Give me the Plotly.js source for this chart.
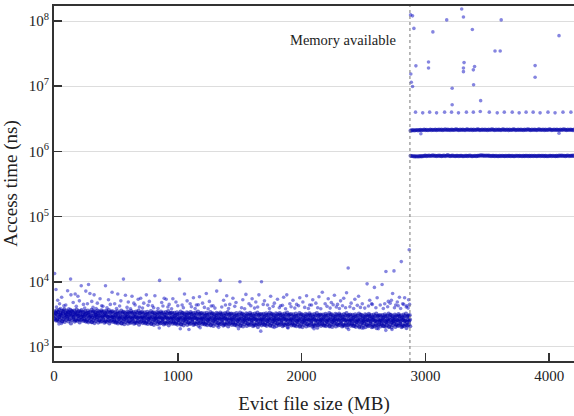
<!DOCTYPE html>
<html>
<head>
<meta charset="utf-8">
<script src="https://cdn.plot.ly/plotly-3.0.1.min.js"></script>
<style>html,body{margin:0;padding:0;background:#fff;}#chart{width:574px;height:416px;}</style>
</head>
<body>
<div id="chart"></div>
<script>
// Eviction file size sampling (MB)
const leftStart = 0, rightStart = 2880, sampleStep = 10;
const rowOffsets = [0, 3, 7, 5];
const memoryAvailable = 2875;

// Access time samples below the memory limit (ns), four samples per size
const leftRowA = [
3100,2980,3210,3050,2890,3150,3020,3260,2940,3080,3170,2910,3040,3230,2990,3110,2870,3060,3190,2950,3030,3140,2880,3010,
2960,3080,2850,2990,3120,2900,3010,2830,3050,2940,3100,2870,2980,3060,2810,2950,3030,2890,3070,2920,2840,3000,2960,2880,
2870,2790,2950,2820,2900,2760,2980,2850,2730,2910,2800,2880,2940,2770,2860,2710,2930,2820,2890,2750,2840,2960,2800,2870,
2810,2740,2880,2790,2700,2850,2760,2900,2830,2690,2780,2860,2730,2820,2910,2750,2680,2840,2790,2870,2720,2800,2760,2850,
2760,2690,2820,2740,2650,2800,2710,2860,2770,2630,2730,2840,2680,2790,2720,2880,2660,2750,2810,2700,2770,2640,2830,2720,
2710,2640,2780,2690,2600,2750,2670,2820,2720,2580,2690,2800,2630,2740,2680,2840,2610,2710,2770,2650,2730,2590,2790,2680,
2660,2590,2730,2640,2560,2700,2620,2770,2670,2530,2640,2750,2580,2690,2630,2790,2560,2660,2720,2600,2680,2540,2740,2630,
2650,2580,2720,2630,2550,2690,2610,2760,2660,2520,2630,2740,2570,2680,2620,2780,2550,2650,2710,2590,2670,2530,2730,2620,
2610,2540,2680,2590,2510,2650,2570,2720,2620,2480,2590,2700,2530,2640,2580,2740,2510,2610,2670,2550,2630,2490,2690,2580,
2600,2530,2670,2580,2500,2640,2560,2710,2610,2470,2580,2690,2520,2630,2570,2730,2500,2600,2660,2540,2620,2480,2680,2570,
2560,2490,2630,2540,2460,2600,2520,2670,2570,2430,2540,2650,2480,2590,2530,2690,2460,2560,2620,2500,2580,2440,2640,2530,
2550,2480,2620,2530,2450,2590,2510,2660,2560,2420,2530,2640,2470,2580,2520,2680,2450,2550,2610,2490,2570,2430,2630,2520
];
const leftRowB = [
3520,3380,3650,3440,3710,3300,3580,3460,3800,3350,3620,3490,3390,3700,3530,3420,3610,3360,3750,3480,3560,3330,3680,3450,
3410,3540,3290,3620,3380,3470,3700,3320,3560,3430,3280,3600,3490,3360,3650,3400,3510,3300,3580,3440,3690,3350,3480,3520,
3320,3450,3200,3530,3290,3380,3610,3230,3470,3340,3190,3510,3400,3270,3560,3310,3420,3210,3490,3350,3600,3260,3390,3430,
3260,3390,3140,3470,3230,3320,3550,3170,3410,3280,3130,3450,3340,3210,3500,3250,3360,3150,3430,3290,3540,3200,3330,3370,
3200,3330,3080,3410,3170,3260,3490,3110,3350,3220,3070,3390,3280,3150,3440,3190,3300,3090,3370,3230,3480,3140,3270,3310,
3140,3270,3020,3350,3110,3200,3430,3050,3290,3160,3010,3330,3220,3090,3380,3130,3240,3030,3310,3170,3420,3080,3210,3250,
3090,3220,2970,3300,3060,3150,3380,3000,3240,3110,2960,3280,3170,3040,3330,3080,3190,2980,3260,3120,3370,3030,3160,3200,
3080,3210,2960,3290,3050,3140,3370,2990,3230,3100,2950,3270,3160,3030,3320,3070,3180,2970,3250,3110,3360,3020,3150,3190,
3030,3160,2910,3240,3000,3090,3320,2940,3180,3050,2900,3220,3110,2980,3270,3020,3130,2920,3200,3060,3310,2970,3100,3140,
3020,3150,2900,3230,2990,3080,3310,2930,3170,3040,2890,3210,3100,2970,3260,3010,3120,2910,3190,3050,3300,2960,3090,3130,
2970,3100,2850,3180,2940,3030,3260,2880,3120,2990,2840,3160,3050,2920,3210,2960,3070,2860,3140,3000,3250,2910,3040,3080,
2960,3090,2840,3170,2930,3020,3250,2870,3110,2980,2830,3150,3040,2910,3200,2950,3060,2850,3130,2990,3240,2900,3030,3070
];
const leftRowC = [
2650,2540,2720,2480,2610,2780,2500,2680,2420,2590,2730,2460,2640,2300,2570,2700,2450,2620,2530,2690,2380,2580,2660,2510,
2560,2450,2630,2390,2520,2690,2410,2590,2330,2500,2640,2370,2550,2440,2480,2610,2360,2530,2440,2600,2290,2490,2570,2420,
2470,2360,2540,2300,2430,2600,2320,2500,2240,2410,2550,2280,2460,2350,2390,2520,2270,2440,2350,2510,2200,2400,2480,2330,
2420,2310,2490,2250,2380,2550,2270,2450,2190,2360,2500,2230,2410,2300,2340,2470,2220,2390,2300,2460,2150,2350,2430,2280,
2380,2270,2450,2210,2340,2510,2230,2410,2150,2320,2460,2190,2370,2260,2300,2430,2180,2350,2260,2420,2110,2310,2390,2240,
2330,2220,2400,2160,2290,2460,2180,2360,2100,2270,2410,2140,2320,2210,2250,2380,2130,2300,2210,2370,2060,2260,2340,2190,
2290,2180,2360,2120,2250,2420,2140,2320,2060,2230,2370,2100,2280,2170,2210,2340,2090,2260,2170,2330,2020,2220,2300,2150,
2280,2200,2350,2110,2260,2400,2150,2310,2070,2240,2360,2090,2290,2160,2220,2330,2080,2270,2180,2320,2030,2230,2310,2140,
2250,2140,2320,2080,2210,2380,2100,2280,2020,2190,2330,2060,2240,2130,2170,2300,2050,2220,2130,2290,1980,2180,2260,2110,
2240,2150,2310,2090,2200,2370,2110,2270,2030,2200,2320,2070,2230,2140,2180,2290,2060,2210,2140,2280,1990,2190,2250,2120,
2210,2100,2280,2040,2170,2340,2060,2240,1980,2150,2290,2020,2200,2090,2130,2260,2010,2180,2090,2250,1940,2140,2220,2070,
2200,2110,2270,2050,2160,2330,2070,2230,1990,2160,2280,2030,2190,2100,2140,2250,2020,2170,2100,2240,1950,2150,2210,2080
];
const leftRowD = [
2750,3300,2600,3450,2900,3150,2450,3600,2800,3250,2950,3400,2700,3100,3550,2850,3200,2550,3350,3000,2650,3500,2900,3150,
2700,3200,2500,3350,2800,3050,2400,3500,2750,3150,2850,3300,2600,3000,3450,2750,3100,2450,3250,2900,2550,3400,2800,3050,
2600,3100,2400,3250,2700,2950,2300,3400,2650,3050,2750,3200,2500,2900,3350,2650,3000,2350,3150,2800,2450,3300,2700,2950,
2550,3050,2350,3200,2650,2900,2250,3350,2600,3000,2700,3150,2450,2850,3300,2600,2950,2300,3100,2750,2400,3250,2650,2900,
2500,3000,2300,3150,2600,2850,2200,3300,2550,2950,2650,3100,2400,2800,3250,2550,2900,2250,3050,2700,2350,3200,2600,2850,
2450,2950,2250,3100,2550,2800,2150,3250,2500,2900,2600,3050,2350,2750,3200,2500,2850,2200,3000,2650,2300,3150,2550,2800,
2400,2900,2200,3050,2500,2750,2100,3200,2450,2850,2550,3000,2300,2700,3150,2450,2800,2150,2950,2600,2250,3100,2500,2750,
2420,2880,2180,3070,2480,2770,2120,3180,2470,2830,2570,2980,2320,2680,3130,2430,2820,2170,2930,2620,2230,3080,2520,2730,
2350,2850,2150,3000,2450,2700,2050,3150,2400,2800,2500,2950,2250,2650,3100,2400,2750,2100,2900,2550,2200,3050,2450,2700,
2370,2830,2130,3020,2430,2720,2070,3130,2420,2780,2520,2930,2270,2630,3080,2380,2770,2120,2880,2570,2180,3030,2470,2680,
2300,2800,2100,2950,2400,2650,2000,3100,2350,2750,2450,2900,2200,2600,3050,2350,2700,2050,2850,2500,2150,3000,2400,2650,
2320,2780,2080,2970,2380,2670,2020,3080,2370,2730,2470,2880,2220,2580,3030,2330,2720,2070,2830,2520,2170,2980,2420,2630
];

// Scattered slow accesses below the memory limit: [size MB, time ns]
const leftOutliers = [
[5,13400],[16,7600],[30,5200],[45,4600],[62,5800],[80,4300],[110,7300],[134,11000],[137,6300],[155,4800],[171,6500],[193,6000],
[205,5100],[220,8700],[238,4500],[257,7200],[279,9100],[290,6600],[305,5000],[324,6300],[350,4700],[372,5500],[395,4200],[416,8700],
[440,5300],[469,6900],[490,4600],[515,6500],[540,5100],[561,11000],[577,6200],[600,4900],[630,6000],[655,4400],[680,5400],[700,5600],
[725,4700],[746,6300],[770,5000],[795,4300],[815,6100],[853,10500],[870,4800],[890,5600],[906,5400],[930,4500],[960,5500],[985,4900],
[1014,11000],[1035,4400],[1054,6500],[1075,5100],[1100,4600],[1126,5700],[1150,4400],[1175,5900],[1200,4700],[1230,6600],[1255,5000],
[1285,4300],[1314,7200],[1343,10500],[1370,5200],[1395,6100],[1420,4500],[1445,5600],[1470,4800],[1502,10000],[1525,5300],[1550,6400],
[1575,4600],[1600,5500],[1630,4900],[1655,6300],[1676,10000],[1700,5100],[1725,4400],[1750,6000],[1780,4700],[1805,5400],[1830,4300],
[1855,5800],[1880,6300],[1905,4600],[1930,5200],[1960,4500],[1985,5700],[2010,4900],[2040,6100],[2065,4400],[2090,5300],[2115,4700],
[2140,5900],[2167,6900],[2190,4600],[2215,5500],[2240,4800],[2265,6200],[2290,4500],[2315,5100],[2340,5600],[2363,6800],[2376,16300],
[2400,4700],[2430,5400],[2460,6000],[2490,4600],[2529,9300],[2550,5200],[2571,4500],[2588,8200],[2610,5700],[2650,9100],[2671,4600],
[2681,14400],[2700,5000],[2725,5200],[2735,6600],[2746,14700],[2760,4400],[2773,4900],[2790,5800],[2805,20400],[2816,4600],[2832,5700],
[2850,4300],[2864,5300],[2869,31000],[2872,4500],
[20,4100],[52,3900],[95,4400],[120,3850],[180,4200],[248,3950],[270,4600],[315,4050],[340,3900],[385,4300],[428,4000],[455,4500],
[505,3900],[530,4250],[590,4050],[618,3850],[645,4700],[690,4100],[715,3950],[760,4350],[805,4000],[840,3900],[880,4250],[920,4100],
[950,3850],[1000,4300],[1045,4000],[1110,4150],[1140,3900],[1165,4450],[1215,4050],[1245,3850],[1270,4250],[1300,3950],[1355,4100],
[1385,4400],[1410,3900],[1460,4200],[1515,4000],[1540,3850],[1590,4300],[1620,3950],[1645,4100],[1690,4500],[1740,3900],[1770,4200],
[1820,4000],[1845,4350],[1870,3850],[1915,4150],[1945,3950],[1975,4300],[2025,4050],[2055,3900],[2080,4400],[2130,4000],[2155,3850],
[2205,4200],[2230,3950],[2255,4450],[2280,4100],[2305,3900],[2330,4300],[2355,4000],[2390,4150],[2420,3900],[2450,4350],[2475,4050],
[2510,3950],[2540,4250],[2565,4600],[2600,4000],[2635,4400],[2660,3900],[2695,4150],[2715,4700],[2750,4000],[2780,4300],[2800,3900],
[2825,4500],[2845,4100],[2860,3950],
[40,2250],[60,2300],[850,1950],[1020,1900],[1090,1850],[1180,1980],[1330,2000],[1490,1900],[1670,1750],[1780,2000],[1890,1950],
[2100,1900],[2380,1850],[2500,1950],[2620,1900],[2680,1800],[2730,1850]
];

// Access time above the memory limit (ns)
const rightUpper = [
2.08e6,2.10e6,2.12e6,2.09e6,2.11e6,2.13e6,2.10e6,2.12e6,2.14e6,2.11e6,
2.13e6,2.15e6,2.12e6,2.14e6,2.11e6,2.13e6,2.16e6,2.12e6,2.14e6,2.13e6,
2.15e6,2.12e6,2.14e6,2.16e6,2.13e6,2.15e6,2.12e6,2.14e6,2.17e6,2.13e6,
2.15e6,2.14e6,2.12e6,2.16e6,2.14e6,2.13e6,2.15e6,2.17e6,2.14e6,2.12e6,
2.15e6,2.13e6,2.16e6,2.14e6,2.12e6,2.15e6,2.17e6,2.13e6,2.14e6,2.16e6,
2.12e6,2.15e6,2.13e6,2.14e6,2.17e6,2.15e6,2.12e6,2.14e6,2.16e6,2.13e6,
2.15e6,2.14e6,2.12e6,2.16e6,2.13e6,2.15e6,2.17e6,2.14e6,2.12e6,2.15e6,
2.13e6,2.16e6,2.14e6,2.12e6,2.15e6,2.17e6,2.13e6,2.14e6,2.16e6,2.12e6,
2.15e6,2.13e6,2.14e6,2.17e6,2.15e6,2.12e6,2.14e6,2.16e6,2.13e6,2.15e6,
2.14e6,2.12e6,2.16e6,2.13e6,2.15e6,2.17e6,2.14e6,2.12e6,2.15e6,2.13e6,
2.16e6,2.14e6,2.12e6,2.15e6,2.17e6,2.13e6,2.14e6,2.16e6,2.12e6,2.15e6,
2.13e6,2.14e6,2.17e6,2.15e6,2.12e6,2.14e6,2.16e6,2.13e6,2.15e6,2.14e6,
2.12e6,2.16e6,2.13e6,2.15e6,2.17e6,2.14e6,2.12e6,2.15e6,2.13e6,2.16e6,
2.14e6,2.12e6,2.15e6
];
const rightLower = [
8.55e5,8.50e5,8.42e5,8.38e5,8.40e5,8.35e5,8.41e5,8.37e5,8.44e5,8.39e5,
8.46e5,8.52e5,8.60e5,8.48e5,8.55e5,8.62e5,8.50e5,8.57e5,8.70e5,8.53e5,
8.58e5,8.49e5,8.56e5,8.63e5,8.51e5,8.45e5,8.54e5,8.60e5,8.48e5,8.57e5,
8.75e5,8.52e5,8.47e5,8.55e5,8.61e5,8.50e5,8.44e5,8.53e5,8.58e5,8.46e5,
8.52e5,8.57e5,8.49e5,8.43e5,8.51e5,8.56e5,8.47e5,8.54e5,8.60e5,8.48e5,
8.42e5,8.50e5,8.55e5,8.46e5,8.52e5,8.58e5,8.63e5,8.66e5,8.59e5,8.62e5,
8.55e5,8.64e5,8.57e5,8.61e5,8.53e5,8.48e5,8.56e5,8.51e5,8.45e5,8.54e5,
8.49e5,8.43e5,8.52e5,8.47e5,8.55e5,8.50e5,8.44e5,8.53e5,8.48e5,8.56e5,
8.51e5,8.46e5,8.54e5,8.49e5,8.43e5,8.52e5,8.57e5,8.47e5,8.55e5,8.50e5,
8.44e5,8.53e5,8.48e5,8.56e5,8.51e5,8.45e5,8.54e5,8.49e5,8.52e5,8.47e5,
8.55e5,8.50e5,8.44e5,8.53e5,8.58e5,8.48e5,8.56e5,8.51e5,8.46e5,8.54e5,
8.49e5,8.43e5,8.52e5,8.57e5,8.47e5,8.55e5,8.50e5,8.44e5,8.53e5,8.48e5,
8.60e5,8.56e5,8.62e5,8.51e5,8.58e5,8.46e5,8.54e5,8.65e5,8.49e5,8.57e5,
8.52e5,8.61e5,8.55e5
];
const rightRowX = [2920,2978,3034,3090,3155,3211,3267,3331,3387,3443,3516,3580,3637,3701,3757,3813,3870,3926,3990,4047,4111,4175];
const rightRowY = [4.0e6,3.9e6,4.0e6,3.9e6,4.0e6,4.0e6,3.9e6,4.0e6,4.0e6,4.1e6,4.0e6,3.9e6,4.0e6,4.0e6,3.9e6,4.0e6,4.0e6,3.9e6,4.0e6,3.9e6,4.0e6,4.0e6];
const rightOutliers = [
[2880,1.24e8],[2896,1.2e8],[2907,7.7e7],[2923,2.05e7],[2882,1.54e7],[2886,1.15e7],[2896,9.9e6],[3025,2.35e7],[3025,1.9e7],
[3060,6.8e7],[3172,1.04e8],[3293,1.53e8],[3307,1.15e8],[3216,9.3e6],[3216,5.2e6],[3312,2.3e7],[3307,1.9e7],[3307,1.67e7],
[3379,7.4e7],[3397,2.0e7],[3387,1.78e7],[3389,1.05e7],[3446,6.0e6],[3562,3.47e7],[3604,3.47e7],[3612,1.04e8],[3886,2.07e7],
[3886,1.37e7],[4079,5.96e7],[2963,1.86e6],[4079,1.9e6]
];

// Axis ticks
const xTicks = [0,1000,2000,3000,4000];
const yTickVals = [1e3,1e4,1e5,1e6,1e7,1e8];
const yTickText = ['10<sup>3</sup>','10<sup>4</sup>','10<sup>5</sup>','10<sup>6</sup>','10<sup>7</sup>','10<sup>8</sup>'];

const bandX = [], bandY = [], sparseX = [], sparseY = [];
[leftRowA, leftRowB, leftRowC, leftRowD].forEach((row, r) => row.forEach((v, i) => { bandX.push(leftStart + i * sampleStep + rowOffsets[r]); bandY.push(v); }));
[rightUpper, rightLower].forEach(row => row.forEach((v, i) => { bandX.push(rightStart + i * sampleStep); bandY.push(v); }));
leftOutliers.forEach(p => { sparseX.push(p[0]); sparseY.push(p[1]); });
rightRowX.forEach((x, i) => { sparseX.push(x); sparseY.push(rightRowY[i]); });
rightOutliers.forEach(p => { sparseX.push(p[0]); sparseY.push(p[1]); });

const font = 'Liberation Serif';
const traces = [
  {type: 'scatter', mode: 'markers', x: bandX, y: bandY,
   marker: {size: 4.2, color: 'rgb(0,0,170)', opacity: 0.55, line: {width: 0}}, hoverinfo: 'x+y'},
  {type: 'scatter', mode: 'markers', x: sparseX, y: sparseY,
   marker: {size: 3.6, color: 'rgb(0,0,190)', opacity: 0.48, line: {width: 0}}, hoverinfo: 'x+y'}
];
const layout = {
  width: 574, height: 416,
  margin: {l: 54, r: 0, t: 6, b: 55},
  paper_bgcolor: '#fff', plot_bgcolor: '#fff',
  showlegend: false,
  font: {family: font, size: 15, color: '#222'},
  xaxis: {
    range: [0, 4200], tickvals: xTicks, ticks: 'inside', ticklen: 8, tickwidth: 1.5, tickcolor: '#333',
    showline: true, linecolor: '#333', linewidth: 2, mirror: true, showgrid: false, zeroline: false,
    tickfont: {family: font, size: 15, color: '#222'},
    title: {text: 'Evict file size (MB)', font: {family: font, size: 19, color: '#222'}, standoff: 14}
  },
  yaxis: {
    type: 'log', range: [2.785, 8.23], tickvals: yTickVals, ticktext: yTickText,
    ticks: 'inside', ticklen: 8, tickwidth: 1.5, tickcolor: '#333',
    showline: true, linecolor: '#333', linewidth: 2, showgrid: true, gridcolor: '#dddddd', gridwidth: 1, zeroline: false,
    tickfont: {family: font, size: 15, color: '#222'},
    title: {text: 'Access time (ns)', font: {family: font, size: 19, color: '#222'}, standoff: 7}
  },
  shapes: [{type: 'line', xref: 'x', yref: 'paper', x0: memoryAvailable, x1: memoryAvailable, y0: 0, y1: 1,
    line: {color: '#777', width: 1, dash: 'dot'}}],
  annotations: [{xref: 'x', yref: 'y', x: memoryAvailable, y: 7.71, xanchor: 'right', yanchor: 'middle', xshift: -12,
    text: 'Memory available', showarrow: false, font: {family: font, size: 14.5, color: '#222'}}]
};
Plotly.newPlot('chart', traces, layout, {displayModeBar: false, staticPlot: true});
</script>
</body>
</html>
